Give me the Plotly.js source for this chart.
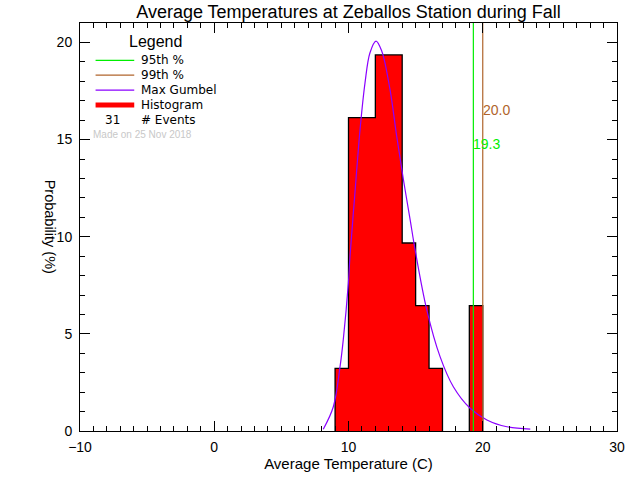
<!DOCTYPE html>
<html>
<head>
<meta charset="utf-8">
<script src="https://cdn.plot.ly/plotly-3.0.1.min.js"></script>
<style>html,body{margin:0;padding:0;background:#fff;}#chart{width:640px;height:480px;}</style>
</head>
<body>
<div id="chart"></div>
<script>
// ---- data ----
var totalEvents = 31;
var binLow = [9, 10, 11, 12, 13, 14, 15, 16, 19];
var binCounts = [1, 5, 5, 6, 6, 3, 2, 1, 2];
var gumbelX = [8.12, 8.87, 9.37, 9.61, 9.99, 10.11, 10.48, 10.86, 11.23, 11.60, 12.05, 12.48, 13.09, 13.59, 14.09, 14.59, 14.96, 15.83, 16.82, 17.81, 19.06, 20.31, 21.80, 23.54];
var gumbelY = [0.09, 1.25, 3.31, 4.69, 7.61, 8.98, 12.25, 15.52, 17.92, 19.47, 20.07, 19.55, 17.58, 15.17, 12.94, 10.88, 9.33, 6.24, 3.83, 2.28, 1.17, 0.57, 0.22, 0.10];
var pctNames = ["95th %", "99th %"];
var pctValues = [19.3, 20.0];
var pctLabelY = [14.75, 16.5];
var pctColors = ["#00ee00", "#b0642c"];
var yMax = 21;

var FONT = "Liberation Sans, Arial, sans-serif";
var LFONT = "DejaVu Sans, Liberation Sans, sans-serif";
var histPct = binCounts.map(function(c){ return c / totalEvents * 100; });

// step outline built from the bins (contiguous runs of bins)
var stepX = [], stepY = [];
for (var b = 0; b < binLow.length; b++) {
  var newRun = (b === 0) || (binLow[b] !== binLow[b - 1] + 1);
  if (newRun) {
    if (b > 0) { stepX.push(binLow[b - 1] + 1); stepY.push(0); stepX.push(null); stepY.push(null); }
    stepX.push(binLow[b]); stepY.push(0);
  }
  stepX.push(binLow[b]); stepY.push(histPct[b]);
}
stepX.push(binLow[binLow.length - 1] + 1); stepY.push(0);

var traces = [];
traces.push({
  type: "bar", x: binLow, y: histPct, offset: 0, width: 1,
  marker: {color: "#ff0000", line: {width: 0}},
  hoverinfo: "x+y", showlegend: false
});
traces.push({
  type: "scatter", mode: "lines", x: stepX, y: stepY, connectgaps: false,
  line: {color: "#000000", width: 1.3, shape: "hv"}, showlegend: false, hoverinfo: "skip"
});
traces.push({
  type: "scatter", mode: "lines", x: gumbelX, y: gumbelY,
  line: {color: "#8a00ff", width: 1.2, shape: "spline"}, showlegend: false
});
for (var i = 0; i < pctValues.length; i++) {
  traces.push({
    type: "scatter", mode: "lines", x: [pctValues[i], pctValues[i]], y: [0, yMax],
    line: {color: pctColors[i], width: 1.2}, showlegend: false, name: pctNames[i]
  });
}

// legend (paper coordinates)
var L = {x0: 0.029, x1: 0.101, tx: 0.111};
var rows = [0.9085, 0.872, 0.8355, 0.799, 0.7625, 0.7277];
var shapes = [
  {type: "line", xref: "paper", yref: "paper", x0: L.x0, x1: L.x1, y0: rows[0], y1: rows[0], line: {color: pctColors[0], width: 1.2}},
  {type: "line", xref: "paper", yref: "paper", x0: L.x0, x1: L.x1, y0: rows[1], y1: rows[1], line: {color: pctColors[1], width: 1.2}},
  {type: "line", xref: "paper", yref: "paper", x0: L.x0, x1: L.x1, y0: rows[2], y1: rows[2], line: {color: "#8a00ff", width: 1.2}},
  {type: "line", xref: "paper", yref: "paper", x0: L.x0, x1: L.x1, y0: rows[3], y1: rows[3], line: {color: "#ff0000", width: 5}}
];
var legText = [pctNames[0], pctNames[1], "Max Gumbel", "Histogram", "# Events"];
var annotations = [];
annotations.push({xref: "paper", yref: "paper", x: 0.141, y: 0.955, text: "Legend", showarrow: false, xanchor: "center", yanchor: "middle", font: {family: FONT, size: 16, color: "#000"}});
for (var k = 0; k < legText.length; k++) {
  annotations.push({xref: "paper", yref: "paper", x: L.tx, y: rows[k], text: legText[k], showarrow: false, xanchor: "left", yanchor: "middle", borderpad: 0, font: {family: LFONT, size: 12, color: "#000"}});
}
annotations.push({xref: "paper", yref: "paper", x: 0.061, y: rows[4], text: String(totalEvents), showarrow: false, xanchor: "center", yanchor: "middle", borderpad: 0, font: {family: LFONT, size: 12, color: "#000"}});
annotations.push({xref: "paper", yref: "paper", x: 0.022, y: rows[5], text: "Made on 25 Nov 2018", showarrow: false, xanchor: "left", yanchor: "middle", borderpad: 0, font: {family: FONT, size: 10, color: "#c8c8c8"}});
for (var j = 0; j < pctValues.length; j++) {
  annotations.push({xref: "x", yref: "y", x: pctValues[j], y: pctLabelY[j], text: pctValues[j].toFixed(1), showarrow: false, xanchor: "left", yanchor: "middle", xshift: -2, font: {family: FONT, size: 14, color: pctColors[j]}});
}
annotations.push({xref: "paper", yref: "paper", x: -0.0552, y: 0.5, text: "Probability (%)", textangle: 90, showarrow: false, xanchor: "center", yanchor: "middle", font: {family: FONT, size: 14.5, color: "#000"}});

var axisCommon = {
  showline: true, linecolor: "#000", linewidth: 1, mirror: "allticks",
  ticks: "inside", tickcolor: "#000", tickwidth: 1, ticklen: 10,
  showgrid: false, zeroline: false, fixedrange: true,
  tickfont: {family: FONT, size: 14, color: "#000"}
};

var layout = {
  width: 640, height: 480,
  margin: {l: 80, r: 23, t: 23, b: 49},
  paper_bgcolor: "#fff", plot_bgcolor: "#fff",
  font: {family: FONT, color: "#000"},
  title: {text: "Average Temperatures at Zeballos Station during Fall", font: {family: FONT, size: 18, color: "#000"}, xref: "paper", x: 0.5, xanchor: "center", yref: "container", y: 0.975, yanchor: "middle"},
  xaxis: Object.assign({}, axisCommon, {
    range: [-10, 30], dtick: 10, tick0: 0,
    minor: {dtick: 1, ticks: "inside", ticklen: 5, tickcolor: "#000", tickwidth: 1},
    ticklabelstandoff: 3,
    title: {text: "Average Temperature (C)", font: {family: FONT, size: 15, color: "#000"}, standoff: 4}
  }),
  yaxis: Object.assign({}, axisCommon, {
    range: [0, yMax], dtick: 5, tick0: 0,
    minor: {dtick: 1, ticks: "inside", ticklen: 5, tickcolor: "#000", tickwidth: 1},
    ticklabelstandoff: 4
  }),
  bargap: 0,
  showlegend: false,
  shapes: shapes,
  annotations: annotations
};

Plotly.newPlot("chart", traces, layout, {displayModeBar: false, staticPlot: true});
</script>
</body>
</html>
